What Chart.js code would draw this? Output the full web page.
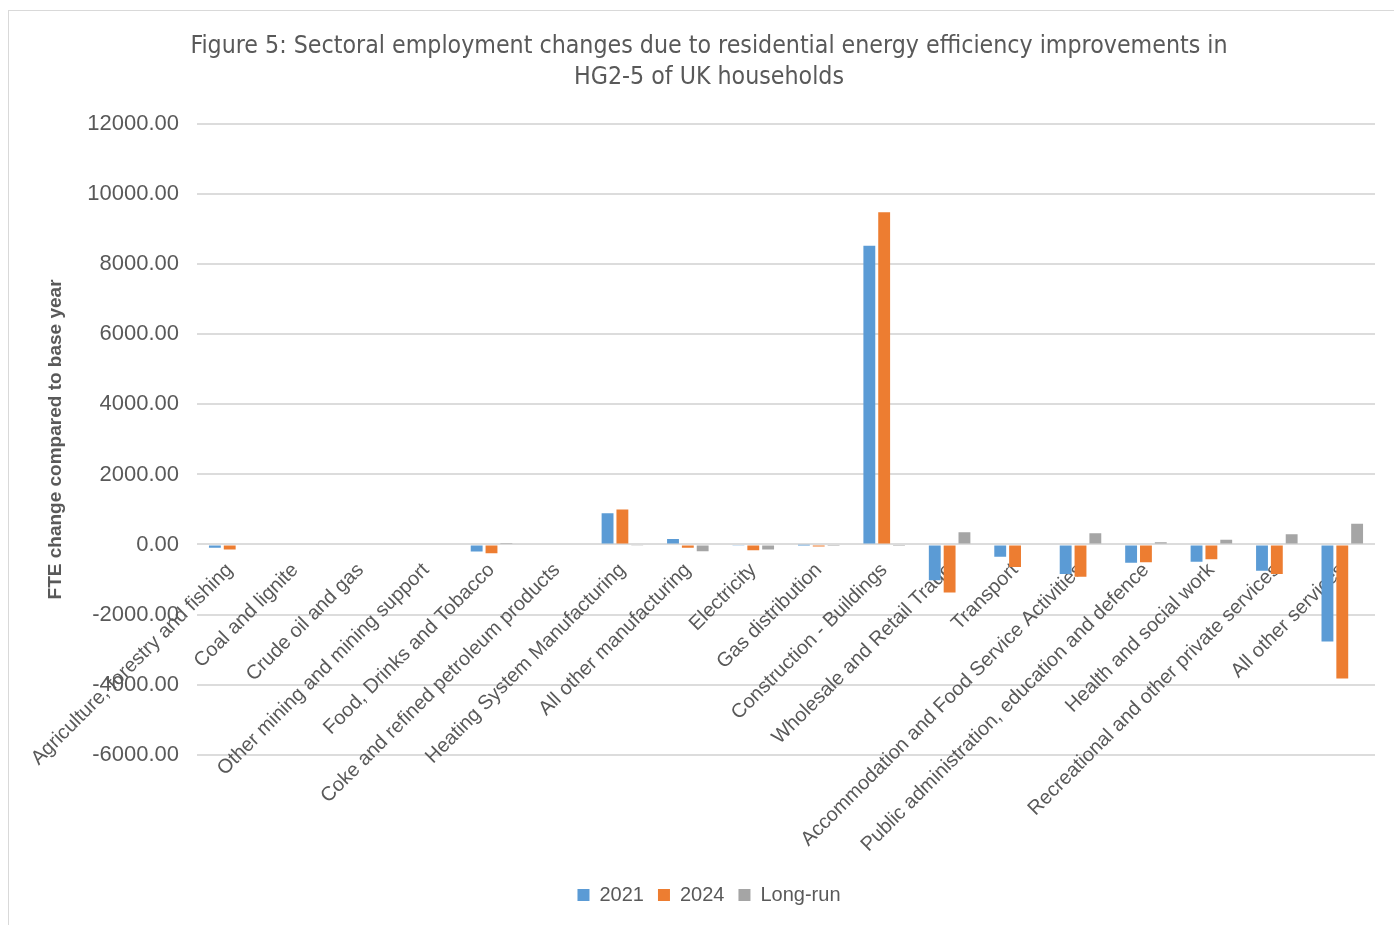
<!DOCTYPE html>
<html>
<head>
<meta charset="utf-8">
<title>Figure 5</title>
<script src="https://cdn.jsdelivr.net/npm/chart.js@4.4.1/dist/chart.umd.min.js"></script>
<style>
  body { margin: 0; background: #fff; overflow: hidden; }
  #wrap { position: absolute; left: 8px; top: 10px; width: 1410px; height: 930px; border: 1px solid #d9d9d9; }
</style>
</head>
<body>
<div id="wrap"><canvas id="sectorchart" width="1400" height="914"></canvas></div>
<script>
var sectors = [
  'Agriculture, forestry and fishing',
  'Coal and lignite',
  'Crude oil and gas',
  'Other mining and mining support',
  'Food, Drinks and Tobacco',
  'Coke and refined petroleum products',
  'Heating System Manufacturing',
  'All other manufacturing',
  'Electricity',
  'Gas distribution',
  'Construction - Buildings',
  'Wholesale and Retail Trade',
  'Transport',
  'Accommodation and Food Service Activities',
  'Public administration, education and defence',
  'Health and social work',
  'Recreational and other private services',
  'All other services'
];
var fte2021 = [-90, 0, 0, 0, -200, 0, 895, 160, -20, -10, 8530, -1020, -350, -840, -520, -495, -750, -2770];
var fte2024 = [-140, 0, 0, 0, -250, 0, 1000, -90, -165, -55, 9490, -1370, -640, -920, -510, -420, -840, -3830];
var fteLongRun = [0, 0, 0, 0, 40, 0, -20, -195, -140, -40, -15, 350, 25, 320, 65, 135, 295, 590];

var textColor = '#595959';

var chartdata = {
  labels: sectors,
  datasets: [
    { label: '2021', backgroundColor: '#5b9bd5', data: fte2021 },
    { label: '2024', backgroundColor: '#ed7d31', data: fte2024 },
    { label: 'Long-run', backgroundColor: '#a5a5a5', data: fteLongRun }
  ]
};

var ctx = document.getElementById('sectorchart');

var barGraph = new Chart(ctx, {
  type: 'bar',
  data: chartdata,
  options: {
    responsive: false,
    animation: false,
    datasets: {
      bar: { categoryPercentage: 0.68, barPercentage: 0.8 }
    },
    layout: { padding: { left: 34, right: 34, bottom: 10 } },
    plugins: {
      title: {
        display: true,
        text: ['Figure 5: Sectoral employment changes due to residential energy efficiency improvements in', 'HG2-5 of UK households'],
        color: textColor,
        font: { family: "'DejaVu Sans Condensed', 'Liberation Sans'", size: 24.7, weight: 'normal', lineHeight: 1.22 },
        padding: { top: 21, bottom: 32 }
      },
      legend: {
        position: 'bottom',
        title: { display: true, text: ' ', font: { size: 12 }, padding: { top: 102, bottom: 0 } },
        labels: { color: textColor, font: { family: 'Liberation Sans', size: 20 }, boxWidth: 12, boxHeight: 12, padding: 14 }
      },
      tooltip: { enabled: false }
    },
    scales: {
      x: {
        position: { y: 0 },
        grid: { display: false },
        border: { display: false },
        ticks: {
          color: textColor,
          font: { family: 'Liberation Sans', size: 20 },
          autoSkip: false,
          minRotation: 45,
          maxRotation: 45,
          padding: 6
        }
      },
      y: {
        min: -6000,
        max: 12000,
        afterFit: function(scale) { scale.width = 154; },
        grid: { color: '#dcdcdc', lineWidth: 2, drawTicks: false },
        border: { display: false },
        ticks: {
          stepSize: 2000,
          color: textColor,
          font: { family: 'Liberation Sans', size: 22 },
          padding: 18,
          callback: function(value) { return value.toFixed(2); }
        },
        title: {
          display: true,
          text: 'FTE change compared to base year',
          color: textColor,
          font: { family: 'Liberation Sans', size: 19, weight: 'bold' },
          padding: { top: 1, bottom: 0 }
        }
      }
    }
  }
});
</script>
</body>
</html>
